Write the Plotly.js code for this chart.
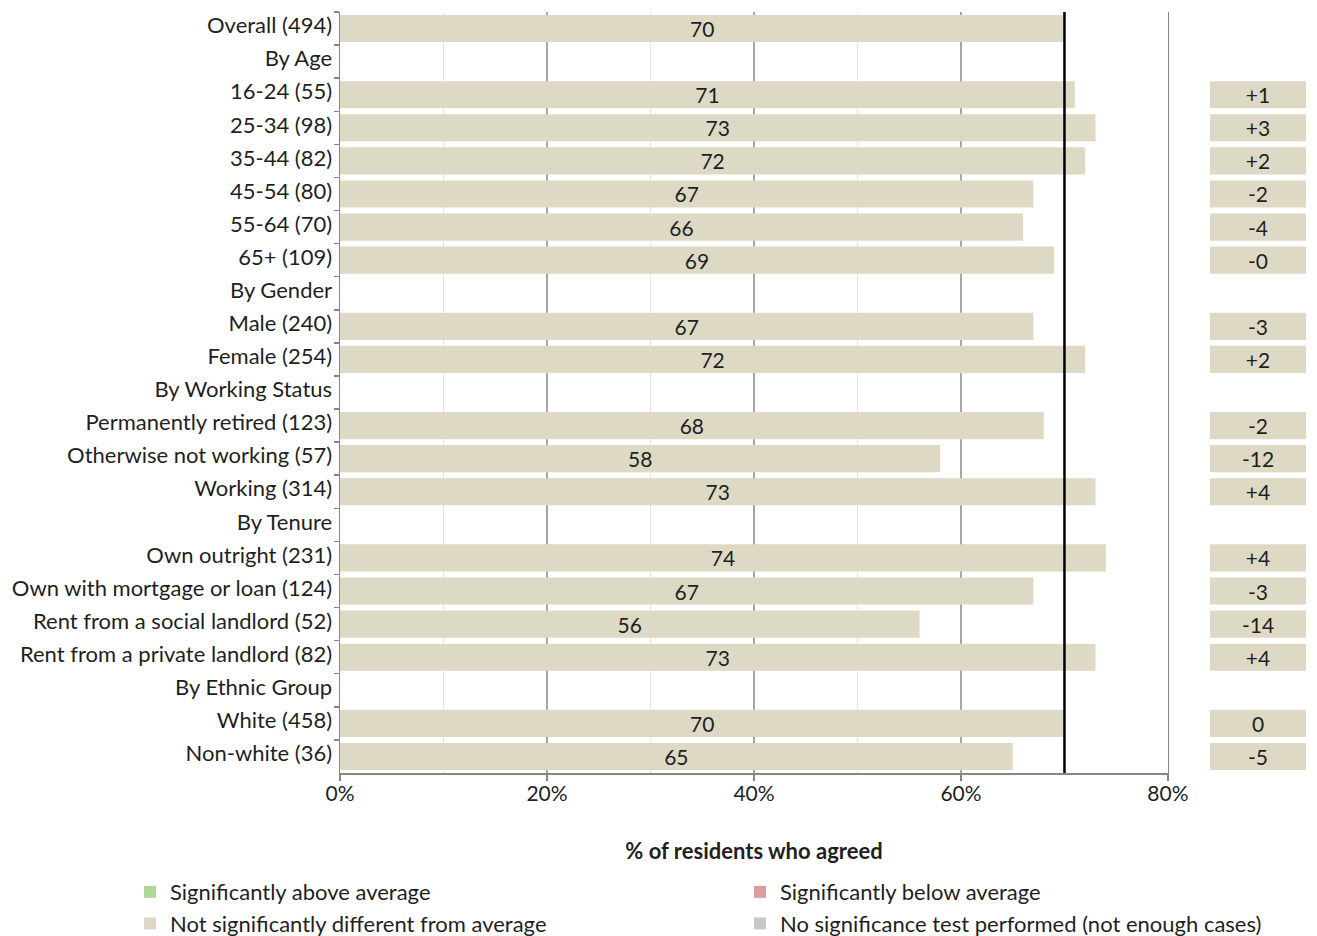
<!DOCTYPE html>
<html>
<head>
<meta charset="utf-8">
<script src="https://cdn.plot.ly/plotly-3.0.1.min.js"></script>
<style>
  html, body { margin: 0; padding: 0; background: #ffffff; }
  #chart { width: 1317px; height: 936px; }
</style>
</head>
<body>
<div id="chart"></div>
<script>
// Rows from top to bottom; group headings have no bar.
const categories = [
  "Overall (494)", "By Age", "16-24 (55)", "25-34 (98)", "35-44 (82)", "45-54 (80)",
  "55-64 (70)", "65+ (109)", "By Gender", "Male (240)", "Female (254)",
  "By Working Status", "Permanently retired (123)", "Otherwise not working (57)",
  "Working (314)", "By Tenure", "Own outright (231)", "Own with mortgage or loan (124)",
  "Rent from a social landlord (52)", "Rent from a private landlord (82)",
  "By Ethnic Group", "White (458)", "Non-white (36)"
];

// % of residents who agreed
const agreed = [
  70, null, 71, 73, 72, 67,
  66, 69, null, 67, 72,
  null, 68, 58,
  73, null, 74, 67,
  56, 73,
  null, 70, 65
];

// Difference from the overall figure (percentage points)
const diffFromAverage = [
  null, null, "+1", "+3", "+2", "-2",
  "-4", "-0", null, "-3", "+2",
  null, "-2", "-12",
  "+4", null, "+4", "-3",
  "-14", "+4",
  null, "0", "-5"
];

const overallAverage = agreed[0];

const xTickVals = [0, 20, 40, 60, 80];
const xTickText = ["0%", "20%", "40%", "60%", "80%"];

const legendNames = [
  "Significantly above average",
  "Significantly below average",
  "Not significantly different from average",
  "No significance test performed (not enough cases)"
];

const COL_SAME = "#ddd9c4";
const COL_ABOVE = "#b2d59a";
const COL_BELOW = "#e09c9c";
const COL_NOTEST = "#c9c9c9";
const FONT = "Lato, 'Open Sans', sans-serif";
const TEXT = "#1f1f1f";
const AXIS = "#868686";

const mainBars = {
  type: "bar",
  orientation: "h",
  name: legendNames[2],
  legendrank: 3,
  x: agreed,
  y: categories,
  marker: { color: COL_SAME },
  text: agreed.map(v => v === null ? "" : String(v)),
  texttemplate: "%{text}",
  textposition: "inside",
  insidetextanchor: "middle",
  textangle: 0,
  constraintext: "none",
  textfont: { family: FONT, size: 21, color: TEXT },
  hoverinfo: "x+y"
};

// Boxes to the right carrying the difference from the overall figure
const diffBoxes = {
  type: "bar",
  orientation: "h",
  xaxis: "x2",
  yaxis: "y",
  showlegend: false,
  x: diffFromAverage.map(d => d === null ? null : 1),
  y: categories,
  marker: { color: COL_SAME },
  text: diffFromAverage.map(d => d === null ? "" : d),
  texttemplate: "%{text}",
  textposition: "inside",
  insidetextanchor: "middle",
  textangle: 0,
  constraintext: "none",
  textfont: { family: FONT, size: 21, color: TEXT },
  hoverinfo: "text"
};

// Key entries for the significance colours that no row uses here
function legendOnly(name, color, rank) {
  return {
    type: "bar", orientation: "h", name: name, legendrank: rank,
    x: [null], y: [categories[1]], marker: { color: color },
    hoverinfo: "skip"
  };
}

const data = [
  mainBars,
  diffBoxes,
  legendOnly(legendNames[0], COL_ABOVE, 1),
  legendOnly(legendNames[1], COL_BELOW, 2),
  legendOnly(legendNames[3], COL_NOTEST, 4)
];

const layout = {
  width: 1317,
  height: 936,
  margin: { l: 340, r: 11, t: 12, b: 163, autoexpand: false },
  paper_bgcolor: "#ffffff",
  plot_bgcolor: "#ffffff",
  font: { family: FONT, size: 22, color: TEXT },
  barmode: "overlay",
  bargap: 0.18,
  xaxis: {
    domain: [0, 0.8571],
    range: [0, 80],
    tickvals: xTickVals,
    ticktext: xTickText,
    showgrid: true,
    gridcolor: "#a6a6a6",
    gridwidth: 2,
    minor: { dtick: 10, showgrid: true, gridcolor: "#e4e4e4", gridwidth: 1 },
    showline: true,
    linecolor: AXIS,
    linewidth: 1.5,
    ticks: "outside",
    ticklen: 6,
    tickcolor: AXIS,
    tickwidth: 1.5,
    ticklabelstandoff: -5,
    zeroline: false,
    fixedrange: true,
    tickfont: { family: FONT, size: 21, color: TEXT },
    title: {
      text: "<b>% of residents who agreed</b>",
      font: { family: FONT, size: 22, color: TEXT },
      standoff: 40
    }
  },
  xaxis2: {
    domain: [0.9006, 1],
    range: [0, 1],
    anchor: "y",
    visible: false,
    fixedrange: true
  },
  yaxis: {
    type: "category",
    autorange: "reversed",
    showline: true,
    mirror: true,
    linecolor: AXIS,
    linewidth: 1.5,
    ticks: "outside",
    tickson: "boundaries",
    ticklen: 5,
    tickcolor: AXIS,
    tickwidth: 1.5,
    ticklabelstandoff: 2,
    ticklabelshift: 3,
    showgrid: false,
    zeroline: false,
    fixedrange: true,
    tickfont: { family: FONT, size: 22, color: TEXT }
  },
  shapes: [{
    type: "line",
    xref: "x", yref: "paper",
    x0: overallAverage, x1: overallAverage,
    y0: 0, y1: 1,
    line: { color: "#000000", width: 2.5 },
    layer: "above"
  }],
  showlegend: true,
  legend: {
    orientation: "h",
    x: -0.2174, xanchor: "left",
    y: -0.1288, yanchor: "top",
    entrywidth: 565,
    entrywidthmode: "pixels",
    itemwidth: 30,
    traceorder: "normal",
    bgcolor: "rgba(0,0,0,0)",
    font: { family: FONT, size: 22, color: TEXT }
  }
};

Plotly.newPlot("chart", data, layout, { displayModeBar: false, staticPlot: true });
</script>
</body>
</html>
